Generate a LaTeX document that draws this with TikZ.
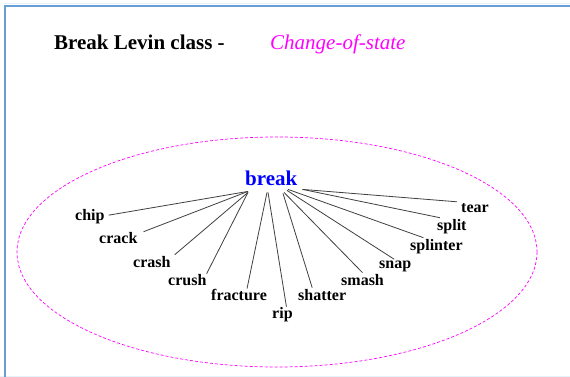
\documentclass[tikz,border=0pt]{standalone}
\usepackage{fontspec}
\setmainfont{Liberation Serif}
\newfontfamily\tnr{Liberation Serif}
\usetikzlibrary{calc}
\definecolor{framebl}{RGB}{104,158,216}
\definecolor{framelt}{RGB}{228,242,250}
\definecolor{mag}{RGB}{255,0,255}
\begin{document}
\begin{tikzpicture}[x=1pt,y=-1pt,
  lbl/.style={font=\tnr\fontsize{16}{18}\selectfont\bfseries, inner sep=0pt, anchor=base west},
  big/.style={font=\tnr\fontsize{21}{24}\selectfont\bfseries, inner sep=0pt, anchor=base west},
  conn/.style={draw=black!75, line width=0.8pt},
  ell/.style={draw=mag, line width=0.7pt, dash pattern=on 3pt off 2pt}]
\useasboundingbox (0,0) rectangle (570,377);
\fill[white] (0,0) rectangle (570,377);
\draw[framelt, line width=1pt] (0,376.5) -- (570,376.5);
\draw[framelt, line width=1pt] (4,4) -- (570,4);
\draw[framebl, line width=2pt] (5,377) -- (5,6) -- (570,6);
% title
\node[big] (title) at (54,50) {Break Levin class -};
\node[big, font=\tnr\fontsize{21}{24}\selectfont\itshape, text=mag] (cos) at (270,50) {Change-of-state};
% ellipse
\draw[ell] (277,252) ellipse [x radius=260, y radius=115];
% root
\node[big, text=blue] (break) at (245,185) {break};
% leaves
\node[lbl] (chip) at (75,220) {chip};
\node[lbl] (crack) at (99,243) {crack};
\node[lbl] (crash) at (133,267) {crash};
\node[lbl] (crush) at (168,285) {crush};
\node[lbl] (fracture) at (211,300) {fracture};
\node[lbl] (rip) at (272,318) {rip};
\node[lbl] (shatter) at (298,300) {shatter};
\node[lbl] (smash) at (341,285) {smash};
\node[lbl] (snap) at (379,268) {snap};
\node[lbl] (splinter) at (410,250) {splinter};
\node[lbl] (split) at (437,230) {split};
\node[lbl] (tear) at (461,212) {tear};
% connectors
\draw[conn] ($(break.south west)+(3,6)$) -- ($(chip.east)+(4,-1)$);
\draw[conn] ($(break.south west)+(3,6)$) -- ($(crack.north east)+(6,0)$);
\draw[conn] ($(break.south west)+(3,7)$) -- ($(crash.north east)+(4,-1)$);
\draw[conn] ($(break.south west)+(3,7)$) -- ($(crush.north east)+(0,0)$);
\draw[conn] ($(break.south west)+(22,7)$) -- ($(fracture.north)+(8,0)$);
\draw[conn] ($(break.south west)+(23,7)$) -- ($(rip.north)+(4,0)$);
\draw[conn] ($(break.south west)+(38,8)$) -- ($(shatter.north)+(-10,-1)$);
\draw[conn] ($(break.south west)+(39,7)$) -- ($(smash.north)+(0,-1)$);
\draw[conn] ($(break.south west)+(42,5)$) -- ($(snap.north)+(-1,-1)$);
\draw[conn] ($(break.south west)+(43,4)$) -- ($(splinter.north)+(-13,-1)$);
\draw[conn] ($(break.south east)+(5,4)$) -- ($(split.north)+(-12,-1)$);
\draw[conn] ($(break.south east)+(5,4)$) -- ($(tear.north west)+(-4,-1)$);
\end{tikzpicture}
\end{document}
